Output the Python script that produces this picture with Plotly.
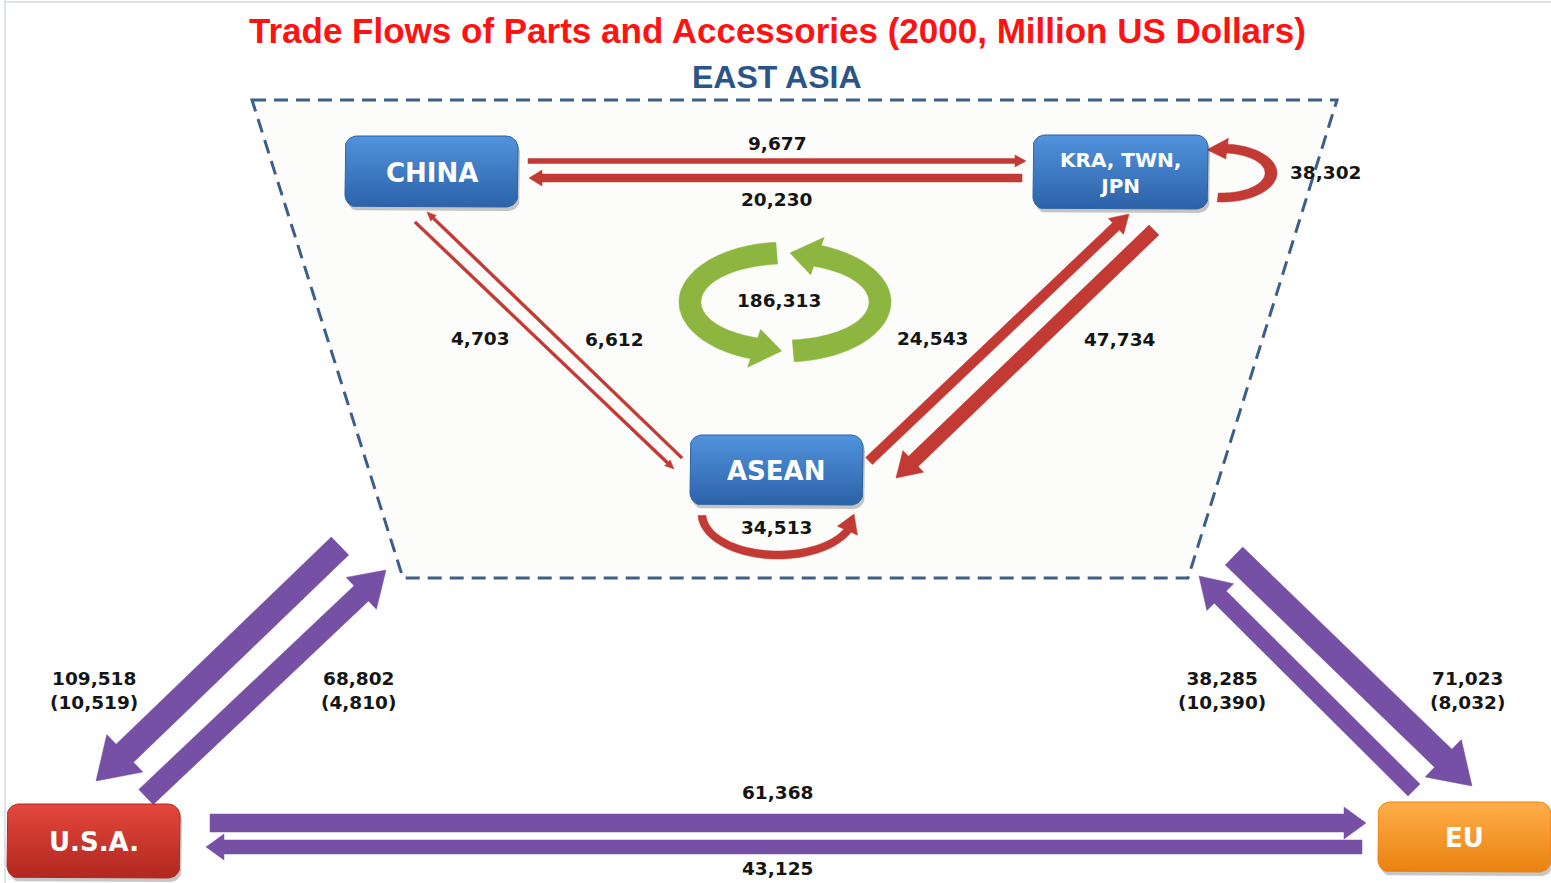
import numpy as np
import plotly.graph_objects as go

W, H = 1551, 883

# ---------------- data ----------------
TITLE = "Trade Flows of Parts and Accessories (2000, Million US Dollars)"
REGION = "EAST ASIA"
node_ids = ["CHINA", "NEA", "ASEAN", "USA", "EU"]
node_labels = ["CHINA", "KRA, TWN,<br>JPN", "ASEAN", "U.S.A.", "EU"]

flow_ids = ["cn_nea", "nea_cn", "cn_as", "as_cn", "as_nea", "nea_as", "nea_self", "as_self",
            "ea_intra", "ea_us", "us_ea", "eu_ea", "ea_eu", "us_eu", "eu_us"]
flow_from = ["CHINA", "NEA", "CHINA", "ASEAN", "ASEAN", "NEA", "NEA", "ASEAN",
             "EAST ASIA", "EAST ASIA", "USA", "EU", "EAST ASIA", "USA", "EU"]
flow_to = ["NEA", "CHINA", "ASEAN", "CHINA", "NEA", "ASEAN", "NEA", "ASEAN",
           "EAST ASIA", "USA", "EAST ASIA", "EAST ASIA", "EU", "EU", "USA"]
flow_values = [9677, 20230, 4703, 6612, 24543, 47734, 38302, 34513,
               186313, 109518, 68802, 38285, 71023, 61368, 43125]
flow_sub_values = [None, None, None, None, None, None, None, None,
                   None, 10519, 4810, 10390, 8032, None, None]

# ---------------- layout / geometry (pixels, y down) ----------------
node_box = {
    "CHINA": (345, 136, 518, 207),
    "NEA": (1033, 135, 1208, 209),
    "ASEAN": (690, 435, 863, 505),
    "USA": (7, 804, 180, 878),
    "EU": (1378, 802, 1551, 872),
}
node_colors = {
    "CHINA": ("#5193DD", "#2C62A8"),
    "NEA": ("#5193DD", "#2C62A8"),
    "ASEAN": ("#5193DD", "#2C62A8"),
    "USA": ("#E4473D", "#B1271F"),
    "EU": ("#FFAE4A", "#EA820F"),
}
node_font = {"CHINA": 26, "NEA": 20, "ASEAN": 26, "USA": 26, "EU": 26}

RED = "#C23A33"
PURPLE = "#7550A5"
GREEN = "#8CB63F"

# straight arrows: x0, y0, x1(tip), y1(tip), shaft width, head width, head length, colour
straight = {
    "cn_nea": (528, 161, 1026, 161, 5, 12, 11, RED),
    "nea_cn": (1022, 178, 529, 178, 8, 16, 13, RED),
    "cn_as": (415, 222, 674, 469, 3, 8, 9, RED),
    "as_cn": (682, 458, 427, 212, 3, 8, 9, RED),
    "as_nea": (869, 461, 1129, 214, 10, 22, 18, RED),
    "nea_as": (1154, 230, 896, 478, 14, 30, 24, RED),
    "ea_us": (340, 546, 96, 781, 25, 52, 40, PURPLE),
    "us_ea": (146, 797, 386, 570, 21, 44, 34, PURPLE),
    "ea_eu": (1234, 556, 1472, 786, 25, 52, 40, PURPLE),
    "eu_ea": (1414, 790, 1199, 576, 17, 38, 30, PURPLE),
    "us_eu": (210, 823, 1366, 823, 18, 32, 22, PURPLE),
    "eu_us": (1362, 847, 206, 847, 14, 26, 18, PURPLE),
}
# curved arrows on ellipses: cx, cy, rx_out, ry_out, rx_in, ry_in, t_start, t_headbase, t_tip, head extra, colour
curved = {
    "nea_self": [(1222, 173, 55, 29, 43, 20, -95, 84, 108, 6, RED)],
    "as_self": [(778, 514, 80, 45, 72, 37, 182, 336, 360, 7, RED)],
    "ea_intra": [(785, 302, 106, 60, 84, 38, 95, 251, 268, 9, GREEN),
                 (785, 302, 106, 60, 84, 38, 275, 430, 447, 9, GREEN)],
}
label_pos = {
    "cn_nea": (777, 143), "nea_cn": (776, 199), "cn_as": (480, 338), "as_cn": (614, 339),
    "as_nea": (932, 338), "nea_as": (1120, 339), "nea_self": (1325, 172), "as_self": (776, 527),
    "ea_intra": (779, 300), "ea_us": (94, 691), "us_ea": (358, 691), "eu_ea": (1222, 691),
    "ea_eu": (1467, 691), "us_eu": (777, 792), "eu_us": (777, 868),
}
trapezoid = [(252, 100), (1337, 100), (1188, 578), (403, 578)]


def path_from(pts):
    return "M " + " L ".join(f"{x:.1f},{y:.1f}" for x, y in pts) + " Z"


def arrow_pts(x0, y0, x1, y1, w, hw, hl):
    p0 = np.array([x0, y0], float)
    p1 = np.array([x1, y1], float)
    d = p1 - p0
    u = d / np.hypot(*d)
    n = np.array([-u[1], u[0]])
    b = p1 - u * hl
    return [p0 + n * w / 2, b + n * w / 2, b + n * hw / 2, p1,
            b - n * hw / 2, b - n * w / 2, p0 - n * w / 2]


def ring_pts(cx, cy, rxo, ryo, rxi, ryi, t0, th, t1, he):
    ts = np.radians(np.linspace(t0, th, 60))
    outer = [(cx + rxo * np.cos(t), cy - ryo * np.sin(t)) for t in ts]
    inner = [(cx + rxi * np.cos(t), cy - ryi * np.sin(t)) for t in ts[::-1]]
    a = np.radians(th)
    b = np.radians(t1)
    ho = (cx + (rxo + he) * np.cos(a), cy - (ryo + he) * np.sin(a))
    hi = (cx + (rxi - he) * np.cos(a), cy - (ryi - he) * np.sin(a))
    tip = (cx + (rxo + rxi) / 2 * np.cos(b), cy - (ryo + ryi) / 2 * np.sin(b))
    return outer + [ho, tip, hi] + inner


def rrect_pts(x0, y0, x1, y1, r, n=10):
    pts = []
    for (cx, cy, a0) in [(x1 - r, y0 + r, -90), (x1 - r, y1 - r, 0),
                         (x0 + r, y1 - r, 90), (x0 + r, y0 + r, 180)]:
        for a in np.radians(np.linspace(a0, a0 + 90, n)):
            pts.append((cx + r * np.cos(a), cy + r * np.sin(a)))
    pts.append(pts[0])
    return pts


fig = go.Figure()
shapes = []

# page frame lines
shapes.append(dict(type="line", x0=5, x1=5, y0=0, y1=H, line=dict(color="#D3DAE3", width=1.5), layer="below"))
shapes.append(dict(type="line", x0=5, x1=W, y0=2, y1=2, line=dict(color="#D3DAE3", width=1.5), layer="below"))

# east asia region
shapes.append(dict(type="path", path=path_from(trapezoid), fillcolor="#FCFCFA",
                   line=dict(color="#3C5F8A", width=3, dash="14px,8px"), layer="below"))

# arrows
for fid in flow_ids:
    if fid in straight:
        x0, y0, x1, y1, w, hw, hl, col = straight[fid]
        shapes.append(dict(type="path", path=path_from(arrow_pts(x0, y0, x1, y1, w, hw, hl)),
                           fillcolor=col, line=dict(color=col, width=0.5), layer="below"))
    if fid in curved:
        for (cx, cy, rxo, ryo, rxi, ryi, t0, th, t1, he, col) in curved[fid]:
            shapes.append(dict(type="path", path=path_from(ring_pts(cx, cy, rxo, ryo, rxi, ryi, t0, th, t1, he)),
                               fillcolor=col, line=dict(color=col, width=0.5), layer="below"))

# nodes
for nid in node_ids:
    x0, y0, x1, y1 = node_box[nid]
    sp = rrect_pts(x0 + 2, y0 + 4, x1 + 2, y1 + 4, 12)
    fig.add_trace(go.Scatter(x=[p[0] for p in sp], y=[p[1] for p in sp], mode="lines", fill="toself",
                             fillcolor="rgba(0,0,0,0.22)", line=dict(width=0, color="rgba(0,0,0,0)"),
                             hoverinfo="skip", showlegend=False))
    pts = rrect_pts(x0, y0, x1, y1, 12)
    ctop, cbot = node_colors[nid]
    fig.add_trace(go.Scatter(x=[p[0] for p in pts], y=[p[1] for p in pts], mode="lines", fill="toself",
                             fillgradient=dict(type="vertical", colorscale=[[0, cbot], [1, ctop]]),
                             line=dict(width=1, color=cbot), hoverinfo="skip", showlegend=False))

annotations = []
for nid, lab in zip(node_ids, node_labels):
    x0, y0, x1, y1 = node_box[nid]
    annotations.append(dict(x=(x0 + x1) / 2, y=(y0 + y1) / 2 + 1, text=lab, showarrow=False,
                            font=dict(family="DejaVu Sans", size=node_font[nid], color="white", weight="bold")))

for fid, v, sv in zip(flow_ids, flow_values, flow_sub_values):
    txt = f"{v:,}" if sv is None else f"{v:,}<br>({sv:,})"
    x, y = label_pos[fid]
    annotations.append(dict(x=x, y=y if sv is None else y - 1, text=txt, showarrow=False,
                            font=dict(family="DejaVu Sans", size=18.5, color="#151515", weight="bold")))

annotations.append(dict(x=777, y=30, text=TITLE, showarrow=False,
                        font=dict(family="Liberation Sans", size=35, color="#FF1212", weight="bold")))
annotations.append(dict(x=777, y=77, text=REGION, showarrow=False,
                        font=dict(family="Liberation Sans", size=32, color="#2C5587", weight="bold")))

fig.update_layout(
    width=W, height=H, margin=dict(l=0, r=0, t=0, b=0),
    paper_bgcolor="white", plot_bgcolor="white",
    xaxis=dict(range=[0, W], visible=False, fixedrange=True),
    yaxis=dict(range=[H, 0], visible=False, fixedrange=True),
    shapes=shapes, annotations=annotations, showlegend=False,
)

fig.write_html("out.html", config={"displayModeBar": False},
               post_script="document.body.style.margin='0';document.body.style.overflow='hidden';")
